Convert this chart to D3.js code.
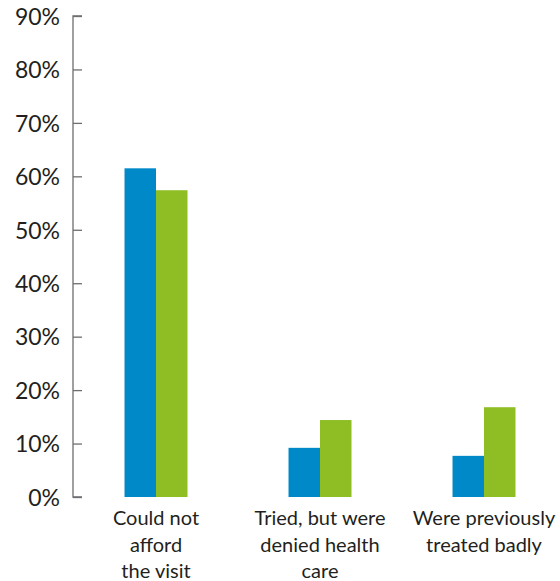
<!DOCTYPE html>
<html>
<head>
<meta charset="utf-8">
<script src="https://cdn.jsdelivr.net/npm/d3@7"></script>
<style>
  body { margin: 0; background: #fff; }
  svg text { font-family: Lato, "Open Sans", sans-serif; fill: #231f20; }
</style>
</head>
<body>
<div id="chart"></div>
<script>
var categories = [["Could not", "afford", "the visit"], ["Tried, but were", "denied health", "care"], ["Were previously", "treated badly"]];
var seriesA = [61.5, 9.2, 7.7];
var seriesB = [57.4, 14.4, 16.8];
var yTicks = [0, 10, 20, 30, 40, 50, 60, 70, 80, 90];

var width = 560, height = 581;
var svg = d3.select("#chart")
            .append("svg")
            .attr("width", width)
            .attr("height", height);

var keys = categories.map(function(d, i) { return "c" + i; });

var x = d3.scaleBand()
  .domain(keys)
  .range([74, 566])
  .paddingInner(0.616)
  .paddingOuter(0.308);

var xs = d3.scaleBand()
  .domain(["a", "b"])
  .range([0, x.bandwidth()]);

var y = d3.scaleLinear()
  .domain([0, 90])
  .range([497, 16]);

// y axis
var yAxis = svg.append("g")
  .attr("transform", "translate(73,0)")
  .call(d3.axisRight(y).tickValues(yTicks).tickSize(9).tickFormat(function(d){ return d + "%"; }));
yAxis.select(".domain").attr("stroke", "#6d6e71").attr("stroke-width", 1.3)
  .attr("d", "M9," + y(90) + "H0V" + y(0) + "H9");
yAxis.selectAll(".tick line").attr("stroke", "#6d6e71").attr("stroke-width", 1.3);
yAxis.selectAll(".tick text")
  .attr("x", -13)
  .attr("text-anchor", "end")
  .attr("dy", "0.36em")
  .style("font-size", "23px");

// bars
var groups = svg.append("g")
  .selectAll("g")
  .data(keys)
  .enter()
  .append("g")
  .attr("transform", function(d) { return "translate(" + x(d) + ",0)"; });

groups.append("rect")
  .attr("x", xs("a"))
  .attr("width", xs.bandwidth())
  .attr("y", function(d, i) { return y(seriesA[i]); })
  .attr("height", function(d, i) { return y(0) - y(seriesA[i]); })
  .attr("fill", "#0089c9");

groups.append("rect")
  .attr("x", xs("b"))
  .attr("width", xs.bandwidth())
  .attr("y", function(d, i) { return y(seriesB[i]); })
  .attr("height", function(d, i) { return y(0) - y(seriesB[i]); })
  .attr("fill", "#8fbe24");

// category labels
groups.append("text")
  .attr("text-anchor", "middle")
  .attr("x", x.bandwidth() / 2)
  .attr("y", 525)
  .style("font-size", "20px")
  .selectAll("tspan")
  .data(function(d, i) { return categories[i]; })
  .enter()
  .append("tspan")
  .attr("x", x.bandwidth() / 2)
  .attr("dy", function(d, i) { return i === 0 ? 0 : 26.5; })
  .text(function(d) { return d; });
</script>
</body>
</html>
